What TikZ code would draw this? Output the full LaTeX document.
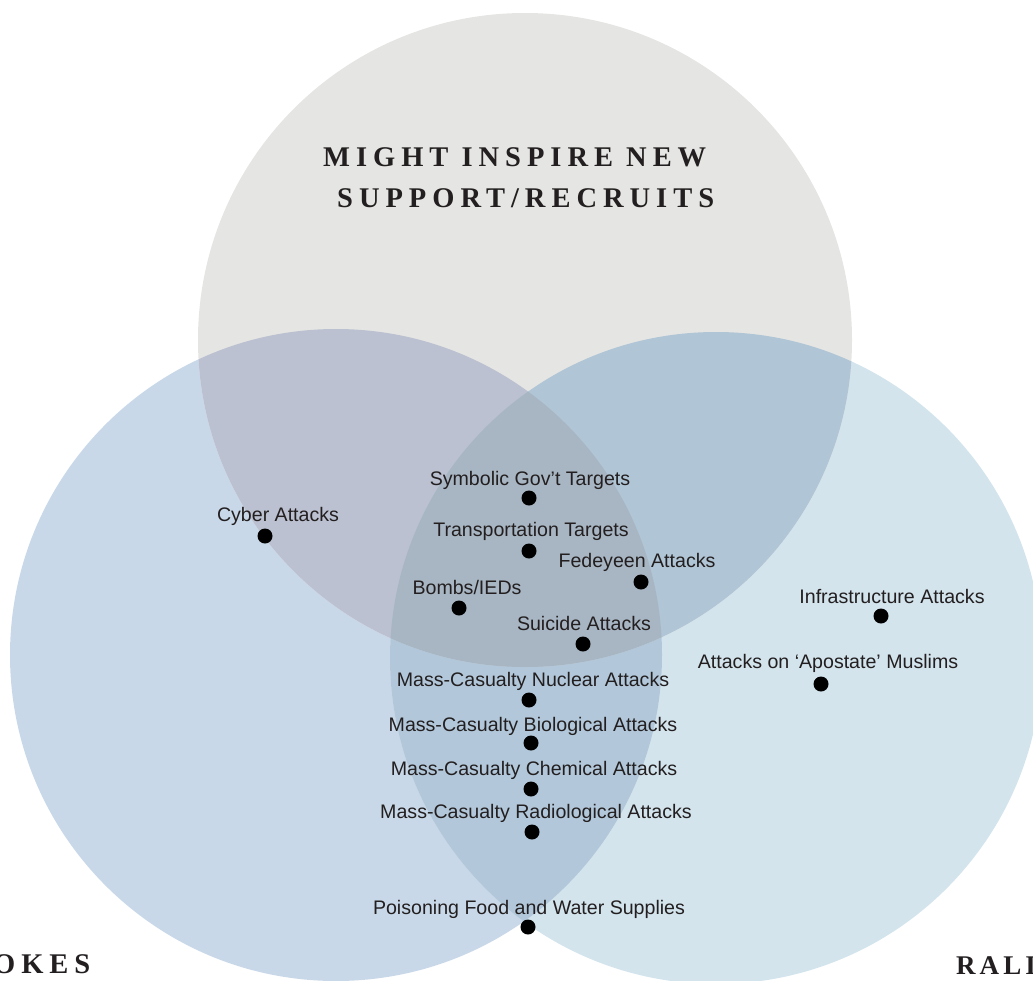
\documentclass[tikz,border=0pt]{standalone}
\usepackage{fontspec}
\setmainfont{Liberation Serif}
\newfontfamily\itemfont{Liberation Sans}
\newfontfamily\titlefont[LetterSpace=21]{Liberation Serif}
\newfontfamily\cornerfont[LetterSpace=15]{Liberation Serif}
\definecolor{cT}{HTML}{E5E5E3}
\definecolor{cL}{HTML}{C8D8E8}
\definecolor{cR}{HTML}{D3E4ED}
\definecolor{cTL}{HTML}{BBC1D0}
\definecolor{cTR}{HTML}{B0C5D5}
\definecolor{cLR}{HTML}{B2C8DA}
\definecolor{cTLR}{HTML}{A8B6C3}
\definecolor{ink}{HTML}{231F20}
\tikzset{
  item/.style={font=\itemfont\fontsize{19.6}{22}\selectfont, text=ink, inner sep=0pt},
  dot/.style={circle, fill=black, minimum size=15pt, inner sep=0pt},
  ttl/.style={font=\titlefont\bfseries\fontsize{28.5}{30}\selectfont, text=ink, inner sep=0pt},
  crn/.style={font=\cornerfont\bfseries\fontsize{27}{30}\selectfont, text=ink, inner sep=0pt},
}
\begin{document}
\begin{tikzpicture}[x=1pt,y=-1pt]
\useasboundingbox (0,0) rectangle (1033,980);
\coordinate (T) at (525,340);
\coordinate (L) at (336,655);
\coordinate (R) at (716,658);
\def\rT{327pt}\def\rL{326pt}\def\rR{326pt}
\fill[cL] (L) circle[radius=\rL];
\fill[cR] (R) circle[radius=\rR];
\begin{scope}
  \clip (L) circle[radius=\rL];
  \fill[cLR] (R) circle[radius=\rR];
\end{scope}
\fill[cT] (T) circle[radius=\rT];
\begin{scope}
  \clip (T) circle[radius=\rT];
  \fill[cTL] (L) circle[radius=\rL];
  \fill[cTR] (R) circle[radius=\rR];
  \clip (L) circle[radius=\rL];
  \fill[cTLR] (R) circle[radius=\rR];
\end{scope}
% titles
\node[ttl, anchor=base west] (t1) at (323,166) {MIGHT INSPIRE NEW};
\node[ttl, anchor=base west] (t2) at (337,207) {SUPPORT/RECRUITS};
\node[ttl, anchor=base west] (bl) at (-7,973) {OKES};
\node[crn, anchor=base west] (br) at (956,974) {RALI};
% items
\node[item] (l1) at (530,480) {Symbolic Gov’t Targets};
\node[dot] (d1) at (529,498) {};
\node[item] (l2) at (531,531) {Transportation Targets};
\node[dot] (d2) at (529,551) {};
\node[item] (l3) at (637,562) {Fedeyeen Attacks};
\node[dot] (d3) at (641,582) {};
\node[item] (l4) at (467,587) {Bombs/IEDs};
\node[dot] (d4) at (459,608) {};
\node[item] (l5) at (584,623) {Suicide Attacks};
\node[dot] (d5) at (583,644) {};
\node[item] (l6) at (533,681) {Mass-Casualty Nuclear Attacks};
\node[dot] (d6) at (529,700) {};
\node[item] (l7) at (533,726) {Mass-Casualty Biological Attacks};
\node[dot] (d7) at (531,743) {};
\node[item] (l8) at (534,770) {Mass-Casualty Chemical Attacks};
\node[dot] (d8) at (531,789) {};
\node[item] (l9) at (536,813) {Mass-Casualty Radiological Attacks};
\node[dot] (d9) at (532,832) {};
\node[item] (l10) at (529,909) {Poisoning Food and Water Supplies};
\node[dot] (d10) at (528,927) {};
\node[item] (l11) at (278,516) {Cyber Attacks};
\node[dot] (d11) at (265,536) {};
\node[item] (l12) at (892,596) {Infrastructure Attacks};
\node[dot] (d12) at (881,616) {};
\node[item] (l13) at (828,663) {Attacks on ‘Apostate’ Muslims};
\node[dot] (d13) at (821,684) {};
\end{tikzpicture}
\end{document}
